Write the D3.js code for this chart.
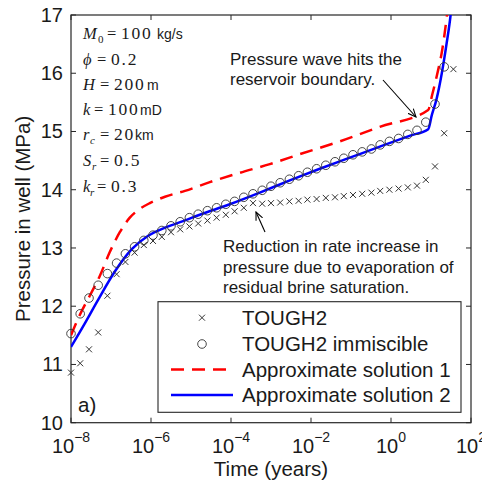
<!DOCTYPE html>
<html>
<head>
<meta charset="utf-8">
<script src="https://cdn.jsdelivr.net/npm/d3@7"></script>
<style>
body { margin: 0; background: #fff; }
svg { display: block; }
text { font-family: "Liberation Sans", Arial, sans-serif; fill: #1a1a1a; }
.tm { font-family: "Liberation Serif", "Times New Roman", serif; }
.num { letter-spacing: 1.8px; }
</style>
</head>
<body>
<div id="chart"></div>
<script>
const W = 482, H = 487;
const M = { left: 71, right: 471, top: 15, bottom: 422.7 };

// log10 of time (years) of the TOUGH2 output points
const logTimeTough = [-8.00, -7.77, -7.55, -7.32, -7.09, -6.86, -6.64, -6.41, -6.18, -5.95,
    -5.73, -5.50, -5.27, -5.04, -4.82, -4.59, -4.36, -4.13, -3.91, -3.68,
    -3.45, -3.22, -3.00, -2.77, -2.54, -2.31, -2.09, -1.86, -1.63, -1.40,
    -1.18, -0.95, -0.72, -0.49, -0.27, -0.04, 0.19, 0.42, 0.65, 0.87,
    1.10, 1.33, 1.56];

// TOUGH2 (x markers), MPa
const pTough2 = [10.86, 11.02, 11.26, 11.55, 12.18, 12.55, 12.76, 12.92, 13.05, 13.12,
    13.19, 13.27, 13.32, 13.37, 13.42, 13.47, 13.52, 13.57, 13.63, 13.69,
    13.77, 13.76, 13.77, 13.78, 13.80, 13.81, 13.83, 13.84, 13.86, 13.87,
    13.89, 13.91, 13.93, 13.95, 13.98, 14.00, 14.02, 14.04, 14.07, 14.17,
    14.40, 14.97, 16.07];

// TOUGH2 immiscible (circles), MPa
const pImmiscible = [11.53, 11.87, 12.14, 12.36, 12.56, 12.74, 12.90, 13.02, 13.13, 13.22,
    13.30, 13.38, 13.45, 13.52, 13.58, 13.64, 13.69, 13.75, 13.80, 13.87,
    13.93, 13.99, 14.06, 14.12, 14.18, 14.24, 14.30, 14.36, 14.42, 14.48,
    14.54, 14.60, 14.65, 14.70, 14.77, 14.83, 14.88, 14.95, 15.02, 15.16,
    15.47, 16.11];

// Approximate solution 1 (red dashed)
const sol1LogT = [-8.00, -7.78, -7.53, -7.28, -7.03, -6.78, -6.53, -6.28, -6.03, -5.65,
    -5.15, -4.53, -3.78, -3.03, -2.28, -1.28, -0.28, 0.93, 1.03, 1.15, 1.28, 1.40, 1.45];
const sol1P = [11.50, 11.85, 12.18, 12.52, 12.93, 13.27, 13.52, 13.67, 13.77, 13.88,
    13.98, 14.13, 14.29, 14.44, 14.61, 14.83, 15.08, 15.37, 15.63, 15.97, 16.40, 17.00, 17.30];

// Approximate solution 2 (blue solid)
const sol2LogT = [-8.00, -7.65, -7.33, -6.90, -6.48, -6.07, -5.65, -5.20, -4.78, -4.03,
    -3.28, -2.53, -1.78, -1.03, -0.28, 0.48, 0.93, 1.02, 1.14, 1.27, 1.39, 1.49, 1.52];
const sol2P = [11.30, 11.71, 12.10, 12.60, 12.98, 13.21, 13.35, 13.46, 13.57, 13.75,
    13.95, 14.16, 14.36, 14.55, 14.74, 14.93, 15.04, 15.28, 15.56, 16.00, 16.51, 17.00, 17.20];

const yTicks = [10, 11, 12, 13, 14, 15, 16, 17];
const xTickExp = [-8, -6, -4, -2, 0, 2];
const legendLabels = ["TOUGH2", "TOUGH2 immiscible", "Approximate solution 1", "Approximate solution 2"];

const x = d3.scaleLog().domain([1e-8, 1e2]).range([M.left, M.right]);
const y = d3.scaleLinear().domain([10, 17]).range([M.bottom, M.top]);

const svg = d3.select("#chart").append("svg")
    .attr("width", W).attr("height", H)
    .attr("viewBox", `0 0 ${W} ${H}`);

const defs = svg.append("defs");
defs.append("clipPath").attr("id", "plotclip")
    .append("rect")
    .attr("x", M.left).attr("y", M.top)
    .attr("width", M.right - M.left).attr("height", M.bottom - M.top);

defs.append("marker")
    .attr("id", "arrow")
    .attr("viewBox", "0 0 10 10")
    .attr("refX", 9).attr("refY", 5)
    .attr("markerWidth", 9).attr("markerHeight", 9)
    .attr("markerUnits", "userSpaceOnUse")
    .attr("orient", "auto")
    .append("path")
    .attr("d", "M0,1 L9,5 L0,9")
    .attr("fill", "none")
    .attr("stroke", "#000")
    .attr("stroke-width", 1.2);

const axisColor = "#262626";

// frame
svg.append("rect")
    .attr("x", M.left).attr("y", M.top)
    .attr("width", M.right - M.left).attr("height", M.bottom - M.top)
    .attr("fill", "none").attr("stroke", axisColor).attr("stroke-width", 1.2);

// ticks (inside, all four sides)
const tickLen = 5;
const tk = svg.append("g").attr("stroke", axisColor).attr("stroke-width", 1);
yTicks.forEach(v => {
    tk.append("line").attr("x1", M.left).attr("x2", M.left + tickLen).attr("y1", y(v)).attr("y2", y(v));
    tk.append("line").attr("x1", M.right).attr("x2", M.right - tickLen).attr("y1", y(v)).attr("y2", y(v));
});
xTickExp.forEach(e => {
    const px = x(Math.pow(10, e));
    tk.append("line").attr("x1", px).attr("x2", px).attr("y1", M.bottom).attr("y2", M.bottom - tickLen);
    tk.append("line").attr("x1", px).attr("x2", px).attr("y1", M.top).attr("y2", M.top + tickLen);
});

// tick labels
svg.append("g").selectAll("text").data(yTicks).enter().append("text")
    .attr("x", M.left - 8).attr("y", d => y(d))
    .attr("dy", "0.35em")
    .attr("text-anchor", "end")
    .style("font-size", "20px")
    .text(d => d);

const xl = svg.append("g").selectAll("text").data(xTickExp).enter().append("text")
    .attr("x", d => x(Math.pow(10, d)))
    .attr("y", 453)
    .attr("text-anchor", "middle")
    .style("font-size", "20px");
xl.append("tspan").text("10");
xl.append("tspan").attr("dy", -11).style("font-size", "14px")
    .text(d => d < 0 ? "\u2212" + (-d) : d);

// axis titles
svg.append("text")
    .attr("x", (M.left + M.right) / 2).attr("y", 476)
    .attr("text-anchor", "middle")
    .style("font-size", "20.5px")
    .text("Time (years)");

svg.append("text")
    .attr("transform", `translate(30,${(M.top + M.bottom) / 2}) rotate(-90)`)
    .attr("text-anchor", "middle")
    .style("font-size", "20.5px")
    .text("Pressure in well (MPa)");

// curves
const plot = svg.append("g").attr("clip-path", "url(#plotclip)");
const line = d3.line()
    .x(d => x(Math.pow(10, d[0])))
    .y(d => y(d[1]))
    .curve(d3.curveMonotoneX);

plot.append("path")
    .datum(d3.zip(sol1LogT, sol1P))
    .attr("d", line)
    .attr("fill", "none")
    .attr("stroke", "#ff0000")
    .attr("stroke-width", 2.5)
    .attr("stroke-dasharray", "13,8");

plot.append("path")
    .datum(d3.zip(sol2LogT, sol2P))
    .attr("d", line)
    .attr("fill", "none")
    .attr("stroke", "#0000ff")
    .attr("stroke-width", 2.5);

// markers
const circleData = d3.zip(logTimeTough.slice(0, pImmiscible.length), pImmiscible);
svg.append("g").selectAll("circle").data(circleData).enter().append("circle")
    .attr("cx", d => x(Math.pow(10, d[0])))
    .attr("cy", d => y(d[1]))
    .attr("r", 4.3)
    .attr("fill", "none")
    .attr("stroke", "#333")
    .attr("stroke-width", 0.9);

const crossPath = s => `M${-s},${-s}L${s},${s}M${-s},${s}L${s},${-s}`;
svg.append("g").selectAll("path").data(d3.zip(logTimeTough, pTough2)).enter().append("path")
    .attr("transform", d => `translate(${x(Math.pow(10, d[0]))},${y(d[1])})`)
    .attr("d", crossPath(3))
    .attr("fill", "none")
    .attr("stroke", "#333")
    .attr("stroke-width", 1);

// parameter block
const params = svg.append("g").style("font-size", "16.5px");
function paramLine(yy, parts) {
    const t = params.append("text").attr("y", yy);
    parts.forEach(p => {
        const s = t.append("tspan").attr("x", p.x).text(p.t);
        if (p.cls) s.attr("class", p.cls);
        if (p.it) s.style("font-style", "italic");
        if (p.sub) s.attr("dy", 4).style("font-size", "11px");
        if (p.up) s.attr("dy", -4);
        if (p.size) s.style("font-size", p.size);
    });
}
paramLine(39, [
    { x: 83, t: "M", cls: "tm", it: true },
    { x: 98, t: "0", cls: "tm", sub: true },
    { x: 107, t: "=", cls: "tm", up: true },
    { x: 121, t: "100", cls: "tm num", size: "17.5px" },
    { x: 157, t: "kg/s", size: "14px" }
]);
paramLine(65, [
    { x: 83, t: "\u03d5", cls: "tm", it: true },
    { x: 97, t: "=", cls: "tm" },
    { x: 111, t: "0.2", cls: "tm num", size: "17.5px" }
]);
paramLine(90, [
    { x: 83, t: "H", cls: "tm", it: true },
    { x: 100, t: "=", cls: "tm" },
    { x: 114, t: "200", cls: "tm num", size: "17.5px" },
    { x: 147, t: "m", size: "14px" }
]);
paramLine(115, [
    { x: 83, t: "k", cls: "tm", it: true },
    { x: 94, t: "=", cls: "tm" },
    { x: 108, t: "100", cls: "tm num", size: "17.5px" },
    { x: 140, t: "mD", size: "14px" }
]);
paramLine(140, [
    { x: 83, t: "r", cls: "tm", it: true },
    { x: 90, t: "c", cls: "tm", it: true, sub: true },
    { x: 100, t: "=", cls: "tm", up: true },
    { x: 114, t: "20", cls: "tm num", size: "17.5px" },
    { x: 135, t: "km", size: "14px" }
]);
paramLine(166, [
    { x: 83, t: "S", cls: "tm", it: true },
    { x: 92, t: "r", cls: "tm", it: true, sub: true },
    { x: 100, t: "=", cls: "tm", up: true },
    { x: 114, t: "0.5", cls: "tm num", size: "17.5px" }
]);
paramLine(192, [
    { x: 83, t: "k", cls: "tm", it: true },
    { x: 90, t: "r", cls: "tm", it: true, sub: true },
    { x: 97, t: "=", cls: "tm", up: true },
    { x: 111, t: "0.3", cls: "tm num", size: "17.5px" }
]);

// annotations
const ann = svg.append("g").style("font-size", "17px");
ann.append("text").attr("x", 230).attr("y", 65).text("Pressure wave hits the");
ann.append("text").attr("x", 230).attr("y", 85).text("reservoir boundary.");
ann.append("text").attr("x", 223).attr("y", 252).text("Reduction in rate increase in");
ann.append("text").attr("x", 223).attr("y", 273).text("pressure due to evaporation of");
ann.append("text").attr("x", 223).attr("y", 293).text("residual brine saturation.");

svg.append("line")
    .attr("x1", 383).attr("y1", 80).attr("x2", 416).attr("y2", 117)
    .attr("stroke", "#000").attr("stroke-width", 1.1)
    .attr("marker-end", "url(#arrow)");
svg.append("line")
    .attr("x1", 265).attr("y1", 232).attr("x2", 256).attr("y2", 212)
    .attr("stroke", "#000").attr("stroke-width", 1.1)
    .attr("marker-end", "url(#arrow)");

svg.append("text").attr("x", 78).attr("y", 412)
    .style("font-size", "20.5px").text("a)");

// legend
const lg = svg.append("g");
lg.append("rect")
    .attr("x", 158).attr("y", 301.7)
    .attr("width", 303).attr("height", 110.6)
    .attr("fill", "#fff").attr("stroke", axisColor).attr("stroke-width", 1.1);
const rowY = [317.7, 344, 369.5, 395];
lg.append("path")
    .attr("transform", `translate(202,${rowY[0]})`)
    .attr("d", crossPath(3)).attr("stroke", "#333").attr("stroke-width", 1).attr("fill", "none");
lg.append("circle").attr("cx", 202).attr("cy", rowY[1]).attr("r", 4.3)
    .attr("fill", "none").attr("stroke", "#333").attr("stroke-width", 0.9);
lg.append("line").attr("x1", 171).attr("x2", 233).attr("y1", rowY[2]).attr("y2", rowY[2])
    .attr("stroke", "#ff0000").attr("stroke-width", 2.5).attr("stroke-dasharray", "13,8");
lg.append("line").attr("x1", 171).attr("x2", 233).attr("y1", rowY[3]).attr("y2", rowY[3])
    .attr("stroke", "#0000ff").attr("stroke-width", 2.5);
lg.selectAll("text.lab").data(legendLabels).enter().append("text")
    .attr("class", "lab")
    .attr("x", 242).attr("y", (d, i) => rowY[i])
    .attr("dy", "0.36em")
    .style("font-size", "20.5px")
    .text(d => d);
</script>
</body>
</html>
